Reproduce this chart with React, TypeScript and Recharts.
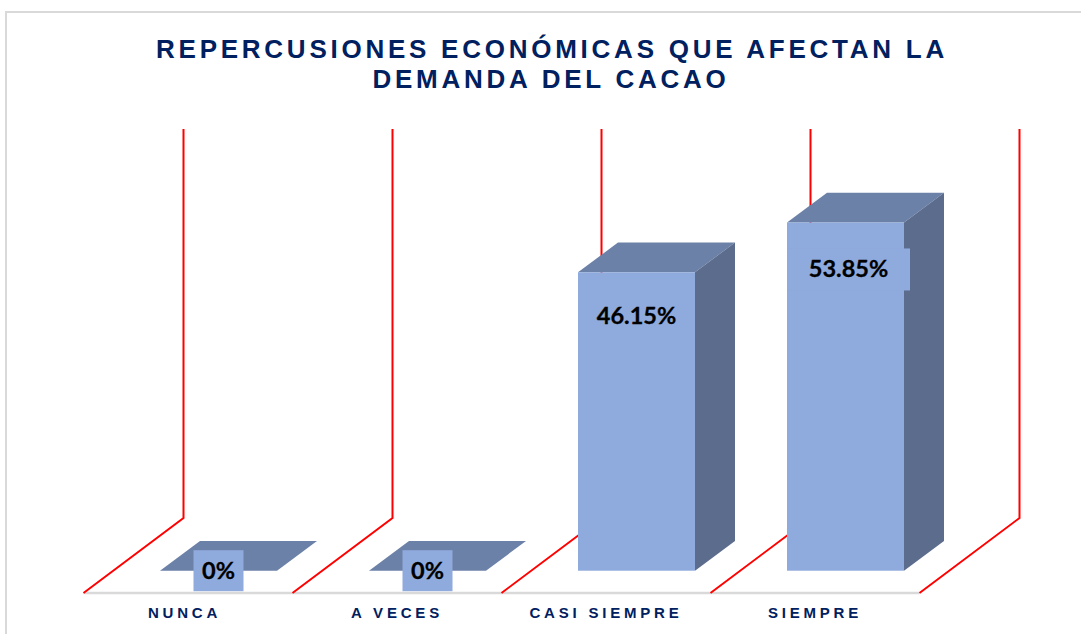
import { Bar, BarChart, LabelList, XAxis, YAxis } from "recharts"

const categories = ["NUNCA", "A VECES", "CASI SIEMPRE", "SIEMPRE"]
const percentages = [0, 0, 46.15, 53.85]
const valueLabels = ["0%", "0%", "46.15%", "53.85%"]
const titleLines = ["REPERCUSIONES ECONÓMICAS QUE AFECTAN LA", "DEMANDA DEL CACAO"]

const chartData = categories.map((name, i) => ({ name, value: percentages[i], label: valueLabels[i] }))

const WIDTH = 1081
const HEIGHT = 634
const NAVY = "#002060"
const FRONT = "#8faadc"
const TOP = "#6c81a8"
const SIDE = "#5c6c8c"

// how far the 3D depth goes for the bars and for the floor
const BAR_DX = 40
const BAR_DY = 29.7
const FLOOR_LEFT = 83.5
const FLOOR_DX = 100
const FLOOR_DY = 75
const BAND = 209
const FLOOR_Y = 593
const WALL_TOP = 129

// data label boxes, moved by hand in the original chart
const LABEL_BOX = [
  { dx: 0, dy: 0, w: 50, h: 41 },
  { dx: 0, dy: 0, w: 50, h: 41 },
  { dx: 0, dy: 43.5, w: 0, h: 0 },
  { dx: 3, dy: 47, w: 123, h: 42 },
]
const TICK_NUDGE = [-3.5, 0, 0, 0]

function Floor() {
  const lines = [0, 1, 2, 3, 4].map((i) => {
    const x = FLOOR_LEFT + i * BAND
    return `${x},${FLOOR_Y} ${x + FLOOR_DX},${FLOOR_Y - FLOOR_DY} ${x + FLOOR_DX},${WALL_TOP}`
  })
  return (
    <g>
      <line x1={FLOOR_LEFT} y1={FLOOR_Y} x2={FLOOR_LEFT + 4 * BAND} y2={FLOOR_Y} stroke="#d9d9d9" strokeWidth={2.5} />
      {lines.map((points) => (
        <polyline key={points} points={points} fill="none" stroke="#ff0000" strokeWidth={2} />
      ))}
    </g>
  )
}

function Bar3D({ x, y, width, height }: any) {
  return (
    <g>
      <polygon
        points={`${x},${y} ${x + BAR_DX},${y - BAR_DY} ${x + width + BAR_DX},${y - BAR_DY} ${x + width},${y}`}
        fill={TOP}
      />
      <polygon
        points={`${x + width},${y} ${x + width + BAR_DX},${y - BAR_DY} ${x + width + BAR_DX},${y + height - BAR_DY} ${x + width},${y + height}`}
        fill={SIDE}
      />
      <rect x={x} y={y} width={width} height={height} fill={FRONT} />
    </g>
  )
}

function ValueLabel({ x, y, width, value, index }: any) {
  const box = LABEL_BOX[index]
  const cx = x + width / 2 + box.dx
  const cy = y + box.dy
  return (
    <g>
      {box.w > 0 && <rect x={cx - box.w / 2} y={cy - box.h / 2} width={box.w} height={box.h} fill={FRONT} />}
      <text
        x={cx}
        y={cy + 8}
        textAnchor="middle"
        fontFamily="Lato"
        fontWeight={700}
        fontSize={23.5}
        fill="#000000"
        stroke="#000000"
        strokeWidth={0.3}
      >
        {value}
      </text>
    </g>
  )
}

function CategoryTick({ x, y, payload, index }: any) {
  return (
    <text
      x={x - 30.5 + TICK_NUDGE[index]}
      y={y + 39}
      textAnchor="middle"
      fontFamily="Liberation Sans"
      fontWeight={700}
      fontSize={15}
      letterSpacing={3.8}
      fill={NAVY}
    >
      {payload.value}
    </text>
  )
}

export default function App() {
  return (
    <div style={{ position: "absolute", left: 0, top: 0, width: WIDTH, height: HEIGHT, background: "#fff", overflow: "hidden" }}>
      <div
        style={{
          position: "absolute",
          left: 5,
          top: 11,
          width: WIDTH,
          height: HEIGHT,
          borderLeft: "2px solid #d9d9d9",
          borderTop: "2px solid #d9d9d9",
        }}
      />
      <div style={{ position: "absolute", left: 0, top: 0 }}>
        <BarChart
          width={WIDTH}
          height={HEIGHT}
          data={chartData}
          margin={{ top: 182.7, right: 131, bottom: 0, left: 114 }}
          barSize={117}
        >
          <text textAnchor="middle" fontFamily="Liberation Sans" fontWeight={700} fontSize={26} letterSpacing={3.75} fill={NAVY}>
            <tspan x={552} y={57.5}>{titleLines[0]}</tspan>
            <tspan x={551} y={87.5}>{titleLines[1]}</tspan>
          </text>
          <Floor />
          <XAxis dataKey="name" height={63.3} axisLine={false} tickLine={false} interval={0} tick={<CategoryTick />} />
          <YAxis hide domain={[0, 60]} />
          <Bar dataKey="value" shape={<Bar3D />} isAnimationActive={false}>
            <LabelList dataKey="label" content={<ValueLabel />} />
          </Bar>
        </BarChart>
      </div>
    </div>
  )
}
